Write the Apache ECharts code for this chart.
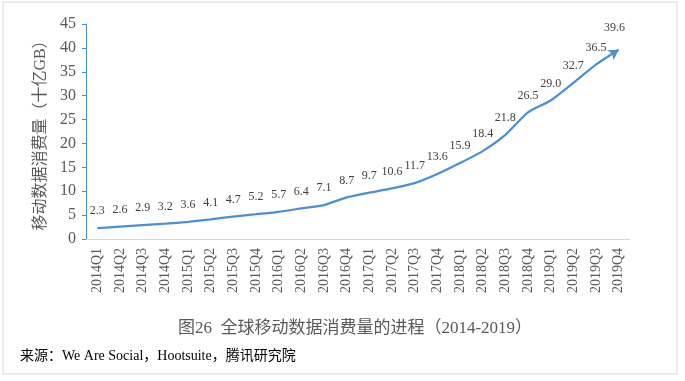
<!DOCTYPE html>
<html><head><meta charset="utf-8">
<script src="https://cdn.jsdelivr.net/npm/echarts@6/dist/echarts.min.js"></script>
<style>html,body{margin:0;padding:0;background:#fff}#c{width:685px;height:381px}</style>
</head><body><div id="c"></div>
<script>
var categories = ['2014Q1','2014Q2','2014Q3','2014Q4','2015Q1','2015Q2','2015Q3','2015Q4','2016Q1','2016Q2','2016Q3','2016Q4','2017Q1','2017Q2','2017Q3','2017Q4','2018Q1','2018Q2','2018Q3','2018Q4','2019Q1','2019Q2','2019Q3','2019Q4'];
var values = [2.3,2.6,2.9,3.2,3.6,4.1,4.7,5.2,5.7,6.4,7.1,8.7,9.7,10.6,11.7,13.6,15.9,18.4,21.8,26.5,29.0,32.7,36.5,39.6];
var yTicks = [0,5,10,15,20,25,30,35,40,45];
var titleText = '图26  全球移动数据消费量的进程（2014-2019）';
var sourceText = '来源：We Are Social，Hootsuite，腾讯研究院';
var yName = '移动数据消费量（十亿GB）';

var SERIF = '"Liberation Serif", "Noto Sans CJK SC", serif';
var blue = '#4A90D9';
var seriesData = values.map(function (v, i) {
  if (i === values.length - 1) {
    return { value: v, symbol: 'arrow', symbolSize: [9, 10], symbolRotate: -57 };
  }
  return { value: v };
});

var chart = echarts.init(document.getElementById('c'), null, { renderer: 'canvas' });
chart.setOption({
  animation: false,
  backgroundColor: '#fff',
  graphic: [{
    type: 'rect', shape: { x: 3, y: 2, width: 674, height: 372 },
    style: { fill: 'none', stroke: '#d9d9d9', lineWidth: 1 }, silent: true
  }],
  title: [{
    text: titleText, left: 350, top: 315, textAlign: 'center',
    textStyle: { fontFamily: SERIF, fontSize: 17, fontWeight: 'normal', color: '#595959' }
  }, {
    text: sourceText, left: 15, top: 344,
    textStyle: { fontFamily: SERIF, fontSize: 14, fontWeight: 'normal', color: '#000' }
  }],
  grid: { left: 86, right: 55, top: 24, bottom: 142, containLabel: false },
  xAxis: {
    type: 'category', data: categories, boundaryGap: true,
    axisLine: { lineStyle: { color: '#d9d9d9', width: 1 } },
    axisTick: { show: false },
    axisLabel: { rotate: 90, interval: 0, margin: 9, fontFamily: SERIF, fontSize: 14, color: '#595959' }
  },
  yAxis: {
    type: 'value', min: yTicks[0], max: yTicks[yTicks.length - 1], interval: 5,
    name: yName, nameLocation: 'middle', nameRotate: 90, nameGap: 35,
    nameTextStyle: { fontFamily: SERIF, fontSize: 16, color: '#595959' },
    axisLine: { show: true, lineStyle: { color: blue, width: 1 } },
    axisTick: { show: true, length: 4, lineStyle: { color: blue } },
    splitLine: { show: false },
    axisLabel: { fontFamily: SERIF, fontSize: 16, color: '#595959', margin: 10 }
  },
  series: [{
    type: 'line', data: seriesData, symbol: 'circle', symbolSize: 0, showSymbol: true, smooth: 0.2,
    lineStyle: { color: blue, width: 2.25 },
    itemStyle: { color: blue },
    label: {
      show: true, position: 'top', distance: 11,
      fontFamily: SERIF, fontSize: 12, color: '#404040',
      formatter: function (p) { return Number(p.value).toFixed(1); }
    }
  }]
});
</script></body></html>
